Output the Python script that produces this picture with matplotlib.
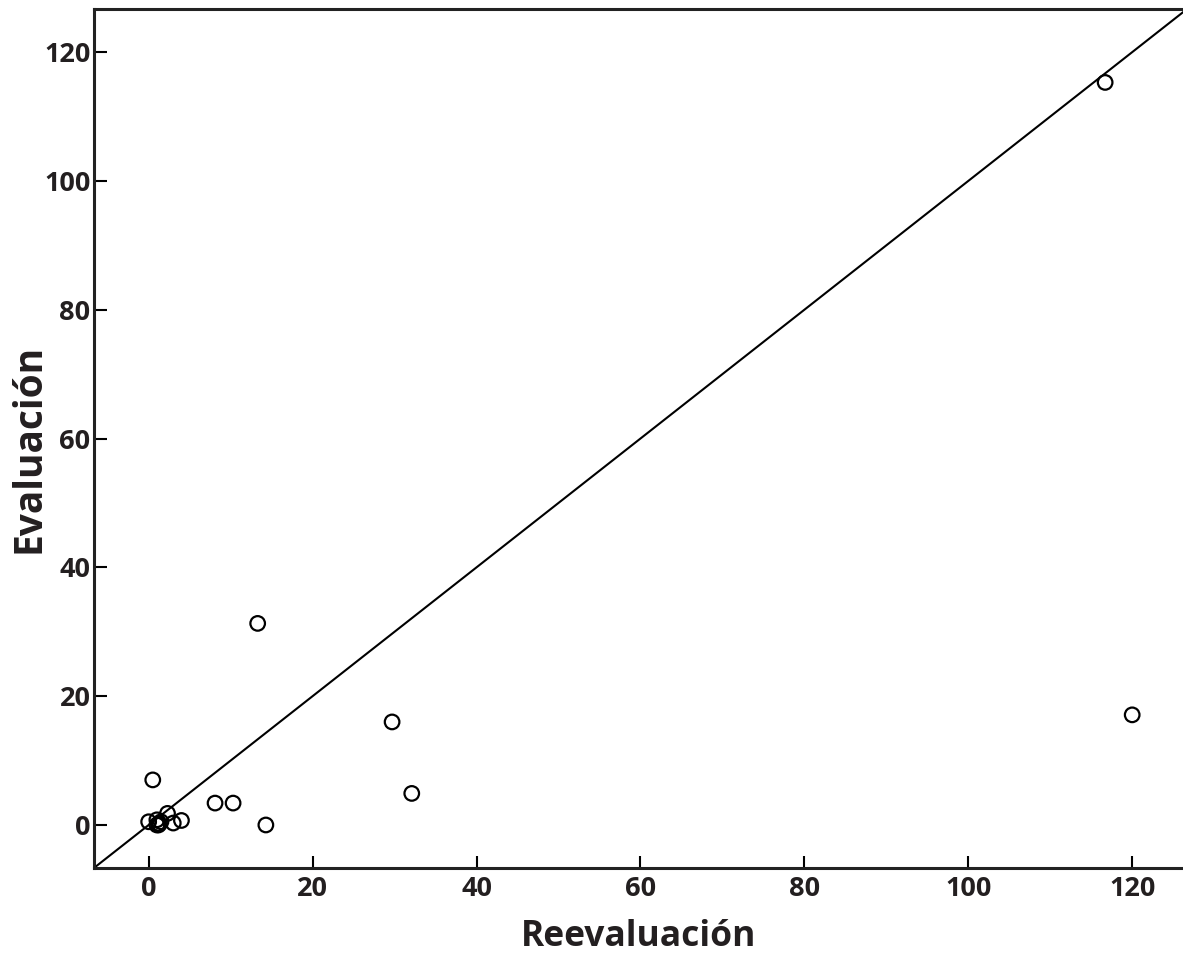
import matplotlib
matplotlib.use("Agg")
import matplotlib.pyplot as plt
import numpy as np

reevaluacion = [0.0, 0.5, 1.0, 1.0, 1.2, 1.5, 1.3, 2.3, 3.0, 4.0, 8.1, 10.3, 14.3, 13.3, 29.7, 32.1, 116.7, 120.0]
evaluacion   = [0.5, 7.0, 0.0, 0.8, 0.0, 0.5, 0.2, 1.8, 0.3, 0.7, 3.4, 3.4, 0.0, 31.3, 16.0, 4.9, 115.3, 17.1]
ticks = [0, 20, 40, 60, 80, 100, 120]

plt.rcParams['font.family'] = ['Open Sans', 'DejaVu Sans']
txt = '#231f20'

W, H = 1183, 956
fig = plt.figure(figsize=(W/100, H/100), dpi=100)
ax = fig.add_axes([94/W, (H-868)/H, (W-94)/W, (868-9)/H])

xmin, xmax = -6.67, 126.2
ymin, ymax = -6.68, 126.7
ax.set_xlim(xmin, xmax)
ax.set_ylim(ymin, ymax)

ax.plot([-10, 140], [-10, 140], color='black', lw=1.5, zorder=2)
ax.scatter(reevaluacion, evaluacion, s=110, facecolors='none', edgecolors='black', linewidths=1.6, zorder=3)

ax.set_xticks(ticks)
ax.set_yticks(ticks)
ax.tick_params(direction='in', length=9, width=1.5, colors='black', labelcolor=txt, labelsize=19.5)
ax.tick_params(axis='y', pad=2.5)
ax.tick_params(axis='x', pad=6)
for lab in ax.get_xticklabels() + ax.get_yticklabels():
    lab.set_fontweight('bold')

for s in ['left', 'bottom', 'top']:
    ax.spines[s].set_linewidth(2.2)
    ax.spines[s].set_color('#222222')
ax.spines['right'].set_visible(False)

ax.set_xlabel('Reevaluación', fontsize=25.5, fontweight='bold', color=txt)
ax.set_ylabel('Evaluación', fontsize=28, fontweight='bold', color=txt)
ax.xaxis.set_label_coords(0.5, -(946-868)/(868-9))
ax.xaxis.label.set_va('baseline')
ax.yaxis.set_label_coords(-(94-29)/(W-94), 0.5 - (448.5-438.5)/(868-9))
ax.yaxis.label.set_va('center')

fig.savefig('out.png', dpi=100, facecolor='white')
